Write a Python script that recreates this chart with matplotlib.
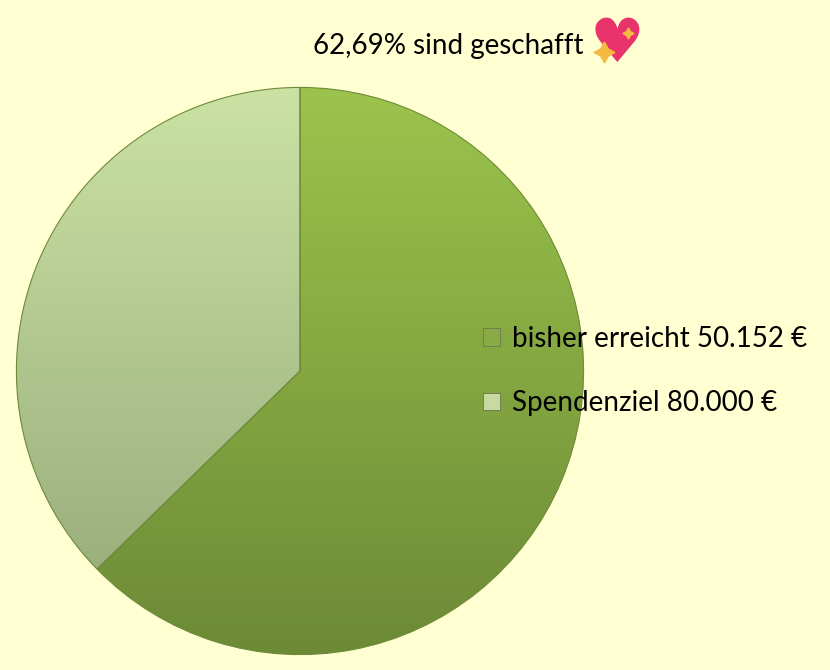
import matplotlib.pyplot as plt
import numpy as np
from matplotlib.colors import LinearSegmentedColormap
from matplotlib.patches import Rectangle
from matplotlib.lines import Line2D

# data
labels = ['bisher erreicht 50.152 €', 'Spendenziel 80.000 €']
values = [50152, 29848]
title_text = '62,69% sind geschafft'

plt.rcParams['font.family'] = ['Lato', 'DejaVu Sans']

bg = '#FFFFD2'
top_cols = ['#9CC44C', '#CBE2A4']
bot_cols = ['#6C8A36', '#93A777']
edge = '#6E8A3A'

fig = plt.figure(figsize=(8.3, 6.7), dpi=100, facecolor=bg)
ax = fig.add_axes([15/830, 14/670, 570/830, 570/670])
ax.set_facecolor(bg)

wedges, _ = ax.pie(values, startangle=90, counterclock=False, radius=1,
                   wedgeprops=dict(linewidth=0.8, edgecolor=edge))

grad = np.linspace(0, 1, 256).reshape(-1, 1)
for w, tc, bc in zip(wedges, top_cols, bot_cols):
    cmap = LinearSegmentedColormap.from_list('g', [tc, bc])
    im = ax.imshow(grad, cmap=cmap, extent=[-1, 1, -1, 1], origin='upper',
                   aspect='auto', zorder=w.get_zorder() + 0.1)
    im.set_clip_path(w)
    w.set_facecolor('none')
    w.set_zorder(w.get_zorder() + 0.2)

ax.set_xlim(-1.005, 1.005)
ax.set_ylim(-1.005, 1.005)
ax.set_aspect('equal')
ax.axis('off')

# legend
handles = [Rectangle((0, 0), 1, 1, facecolor=c, edgecolor='#6F7F50', linewidth=0.7)
           for c in ['#8AAA45', '#C6DAA2']]
fig.legend(handles, labels, loc='center left', bbox_to_anchor=(483/830, 1 - 371/670),
           frameon=False, fontsize=20, handlelength=0.6, handleheight=0.6,
           handletextpad=0.45, labelspacing=1.4, borderaxespad=0, borderpad=0)

# title with heart
fig.text(448/830, 1 - 46/670, title_text, ha='center', va='center', fontsize=20)
fig.text(617/830, 1 - 45/670, '\u2665', ha='center', va='center', fontsize=44,
         color='#E8336C', family='DejaVu Sans', zorder=3)
fig.add_artist(Line2D([604/830], [1 - 52/670], marker=(4, 1, 0), markersize=15,
                      color='#F5B942', transform=fig.transFigure, zorder=5))
fig.add_artist(Line2D([628/830], [1 - 33/670], marker=(4, 1, 0), markersize=8,
                      color='#F5B942', transform=fig.transFigure, zorder=5))

fig.savefig('out.png', dpi=100, facecolor=bg)
